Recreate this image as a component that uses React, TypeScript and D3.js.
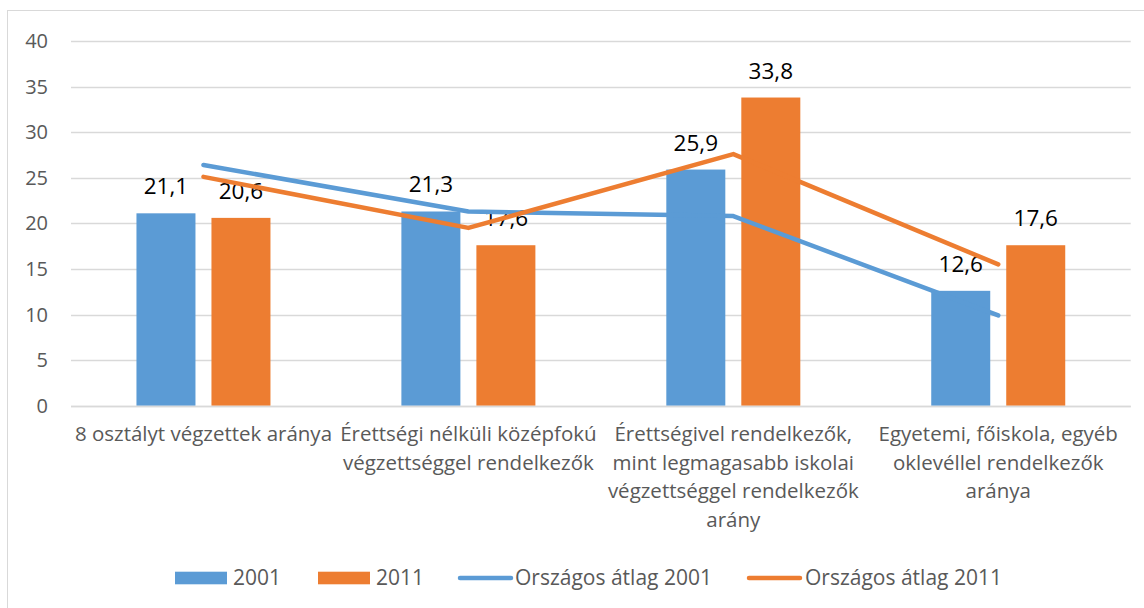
import React, { useEffect, useRef } from 'react';
import * as d3 from 'd3';

// Chart data
const categoryLines: string[][] = [
  ['8 osztályt végzettek aránya'],
  ['Érettségi nélküli középfokú', 'végzettséggel rendelkezők'],
  ['Érettségivel rendelkezők,', 'mint legmagasabb iskolai', 'végzettséggel rendelkezők', 'arány'],
  ['Egyetemi, főiskola, egyéb', 'oklevéllel rendelkezők', 'aránya'],
];
const categories = ['c1', 'c2', 'c3', 'c4'];
const seriesNames = ['2001', '2011'];
const values2001 = [21.1, 21.3, 25.9, 12.6];
const values2011 = [20.6, 17.6, 33.8, 17.6];
const avg2001 = [26.4, 21.3, 20.8, 9.9];
const avg2011 = [25.1, 19.5, 27.6, 15.5];
const yTicks = [0, 5, 10, 15, 20, 25, 30, 35, 40];

const BLUE = '#5B9BD5';
const ORANGE = '#ED7D31';
const GRID = '#D9D9D9';
const TEXT = '#595959';
const FONT = "'Open Sans', sans-serif";

const App = () => {
  const svgRef = useRef<SVGSVGElement | null>(null);
  const width = 1144;
  const height = 608;

  useEffect(() => {
    const svg = d3.select(svgRef.current);
    svg.selectAll('*').remove();

    // outer chart border (cut by picture edge on right/bottom)
    svg.append('rect')
      .attr('x', 7.5).attr('y', 10.5)
      .attr('width', 1300).attr('height', 800)
      .attr('fill', '#fff')
      .attr('stroke', GRID);

    const plotLeft = 71;
    const plotRight = 1130.7;

    const x0 = d3.scaleBand<string>().domain(categories).range([plotLeft, plotRight]).padding(0);
    const groupW = 134;
    const x1 = d3.scaleBand<string>().domain(seriesNames).range([0, groupW]).paddingInner(0.2133).paddingOuter(0);
    const y = d3.scaleLinear().domain([0, 40]).range([405.7, 41]);

    // grid lines
    svg.append('g')
      .selectAll('line')
      .data(yTicks)
      .enter()
      .append('line')
      .attr('x1', plotLeft).attr('x2', plotRight)
      .attr('y1', d => Math.round(y(d)) + 0.5)
      .attr('y2', d => Math.round(y(d)) + 0.5)
      .attr('stroke', GRID)
      .attr('stroke-width', 1.3);

    // y tick labels
    svg.append('g')
      .selectAll('text')
      .data(yTicks)
      .enter()
      .append('text')
      .attr('x', 48)
      .attr('y', d => y(d))
      .attr('dy', '0.35em')
      .attr('text-anchor', 'end')
      .attr('fill', TEXT)
      .attr('font-family', FONT)
      .attr('font-size', 20)
      .text(d => d);

    // bars
    const rows = categories.map((c, i) => ({ cat: c, vals: [values2001[i], values2011[i]] }));
    const colors = [BLUE, ORANGE];
    const fmt = (v: number) => d3.format('.1f')(v).replace('.', ',');

    const groups = svg.append('g')
      .selectAll('g')
      .data(rows)
      .enter()
      .append('g')
      .attr('transform', d => `translate(${x0(d.cat)! + x0.bandwidth() / 2 - groupW / 2},0)`);

    groups.selectAll('rect')
      .data(d => d.vals.map((v, j) => ({ key: seriesNames[j], v, j })))
      .enter()
      .append('rect')
      .attr('x', d => x1(d.key)!)
      .attr('y', d => y(d.v))
      .attr('width', x1.bandwidth())
      .attr('height', d => y(0) - y(d.v))
      .attr('fill', d => colors[d.j]);

    // average lines
    const line = d3.line<number>()
      .x((d, i) => x0(categories[i])! + x0.bandwidth() / 2)
      .y(d => y(d));

    [avg2001, avg2011].forEach((arr, k) => {
      svg.append('path')
        .attr('d', line(arr))
        .attr('fill', 'none')
        .attr('stroke', colors[k])
        .attr('stroke-width', 4.5)
        .attr('stroke-linecap', 'round')
        .attr('stroke-linejoin', 'round');
    });

    // data labels
    groups.selectAll('text')
      .data(d => d.vals.map((v, j) => ({ key: seriesNames[j], v, j })))
      .enter()
      .append('text')
      .attr('x', d => x1(d.key)! + x1.bandwidth() / 2)
      .attr('y', d => y(d.v) - 19)
      .attr('text-anchor', 'middle')
      .attr('fill', '#000')
      .attr('font-family', FONT)
      .attr('font-size', 22.5)
      .text(d => fmt(d.v));

    // baseline
    svg.append('line')
      .attr('x1', plotLeft).attr('x2', plotRight)
      .attr('y1', Math.round(y(0)) + 0.5).attr('y2', Math.round(y(0)) + 0.5)
      .attr('stroke', GRID)
      .attr('stroke-width', 1.3);

    // category labels
    const catG = svg.append('g');
    categoryLines.forEach((lines, i) => {
      const t = catG.append('text')
        .attr('text-anchor', 'middle')
        .attr('fill', TEXT)
        .attr('font-family', FONT)
        .attr('font-size', 20.5);
      lines.forEach((ln, k) => {
        t.append('tspan')
          .attr('x', x0(categories[i])! + x0.bandwidth() / 2)
          .attr('y', 441 + k * 28.5)
          .text(ln);
      });
    });

    // legend
    const legY = 578;
    const leg = svg.append('g').attr('font-family', FONT).attr('font-size', 21).attr('fill', TEXT);
    const legendItems = [
      { label: '2001', color: BLUE, type: 'rect', x: 175, tx: 233 },
      { label: '2011', color: ORANGE, type: 'rect', x: 318, tx: 376 },
      { label: 'Országos átlag 2001', color: BLUE, type: 'line', x: 460, tx: 515 },
      { label: 'Országos átlag 2011', color: ORANGE, type: 'line', x: 749, tx: 805 },
    ];
    legendItems.forEach(it => {
      if (it.type === 'rect') {
        leg.append('rect')
          .attr('x', it.x).attr('y', legY - 6.3)
          .attr('width', 52).attr('height', 12.6)
          .attr('fill', it.color);
      } else {
        leg.append('line')
          .attr('x1', it.x).attr('x2', it.x + 51)
          .attr('y1', legY).attr('y2', legY)
          .attr('stroke', it.color)
          .attr('stroke-width', 4.5)
          .attr('stroke-linecap', 'round');
      }
      leg.append('text')
        .attr('x', it.tx)
        .attr('y', legY)
        .attr('dy', '0.35em')
        .text(it.label);
    });
  }, []);

  return (
    <svg
      ref={svgRef}
      width={width}
      height={height}
      style={{ position: 'absolute', left: 0, top: 0, background: '#fff' }}
    />
  );
};

export default App;
